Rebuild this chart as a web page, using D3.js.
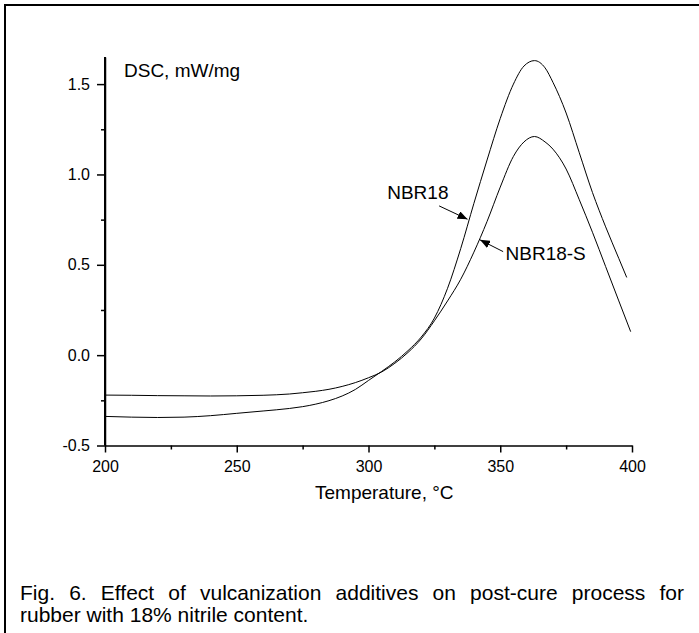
<!DOCTYPE html>
<html>
<head>
<meta charset="utf-8">
<script src="https://cdn.jsdelivr.net/npm/d3@7"></script>
<style>
    body { margin: 0; background: #fff; }
    svg text { font-family: "Liberation Sans", Arial, Helvetica, sans-serif; fill: #000; }
</style>
</head>
<body>
<script>
// NBR18 DSC curve, temperature (C) vs heat flow (mW/mg)
var tempNBR18 = [200, 210, 220, 230, 240, 250, 260, 270, 275, 280, 285, 290, 295, 300, 305, 310, 315, 320, 325,
                 330, 335, 340, 345, 350, 355, 359, 363, 367, 370, 375, 380, 385, 390, 395, 398];
var dscNBR18  = [-0.339, -0.343, -0.345, -0.343, -0.335, -0.322, -0.309, -0.295, -0.285, -0.271, -0.252, -0.226,
                 -0.19, -0.14, -0.09, -0.037, 0.025, 0.10, 0.205, 0.37, 0.59, 0.84, 1.08, 1.31, 1.50, 1.60, 1.63,
                 1.59, 1.51, 1.34, 1.12, 0.90, 0.71, 0.535, 0.43];

// NBR18-S DSC curve
var tempNBR18S = [200, 210, 220, 230, 240, 250, 260, 270, 275, 280, 285, 290, 295, 300, 305, 310, 315, 320, 325,
                  330, 335, 340, 345, 350, 355, 359, 363, 367, 370, 375, 380, 385, 390, 395, 399.5];
var dscNBR18S  = [-0.221, -0.222, -0.224, -0.225, -0.226, -0.225, -0.222, -0.215, -0.208, -0.200, -0.189, -0.173,
                  -0.152, -0.125, -0.093, -0.045, 0.015, 0.09, 0.19, 0.30, 0.42, 0.57, 0.74, 0.93, 1.10, 1.18, 1.21,
                  1.18, 1.14, 1.03, 0.86, 0.68, 0.49, 0.30, 0.13];

var xTicks = [200, 250, 300, 350, 400];
var xMinorTicks = [225, 275, 325, 375];
var yTicks = [-0.5, 0.0, 0.5, 1.0, 1.5];
var yMinorTicks = [-0.25, 0.25, 0.75, 1.25];

var yTitle = 'DSC, mW/mg';
var xTitle = 'Temperature, \u00B0C';
var captionLines = [
    'Fig. 6. Effect of vulcanization additives on post-cure process for',
    'rubber with 18% nitrile content.'
];

// curve labels, anchored in data units (text position, arrow tail, arrow tip)
var curveLabels = [
    {name: 'NBR18',   text: [307.1, 0.864], from: [326.8, 0.826], to: [337.6, 0.752]},
    {name: 'NBR18-S', text: [352.0, 0.527], from: [351.1, 0.573], to: [342.3, 0.638]}
];

var width = 699, height = 633;

var svg = d3.select('body').append('svg')
    .attr('width', width)
    .attr('height', height);

svg.append('defs').append('marker')
    .attr('id', 'arrow')
    .attr('markerUnits', 'userSpaceOnUse')
    .attr('markerWidth', 10)
    .attr('markerHeight', 8)
    .attr('refX', 10)
    .attr('refY', 4)
    .attr('orient', 'auto')
    .append('path')
    .attr('d', 'M0,0 L10,4 L0,8 Z')
    .attr('fill', '#000');

// outer frame (only top and left edges fall inside the picture)
svg.append('rect')
    .attr('x', 5).attr('y', 5)
    .attr('width', 900).attr('height', 900)
    .attr('fill', 'none')
    .attr('stroke', '#000')
    .attr('stroke-width', 2);

var x = d3.scaleLinear().domain([200, 400]).range([105, 632]);
var y = d3.scaleLinear().domain([-0.5, 1.65]).range([445.5, 57]);

var fmt = function(d) { return d.toFixed(1); };

// minor ticks
svg.append('g')
    .attr('transform', 'translate(0,' + y(-0.5) + ')')
    .call(d3.axisBottom(x).tickValues(xMinorTicks).tickSize(4).tickSizeOuter(0).tickFormat(''))
    .call(function(g) { g.select('.domain').remove(); });

svg.append('g')
    .attr('transform', 'translate(' + x(200) + ',0)')
    .call(d3.axisLeft(y).tickValues(yMinorTicks).tickSize(4).tickSizeOuter(0).tickFormat(''))
    .call(function(g) { g.select('.domain').remove(); });

// major ticks
svg.append('g')
    .attr('transform', 'translate(0,' + y(-0.5) + ')')
    .call(d3.axisBottom(x).tickValues(xTicks).tickSize(7).tickSizeOuter(0).tickPadding(8));

svg.append('g')
    .attr('transform', 'translate(' + x(200) + ',0)')
    .call(d3.axisLeft(y).tickValues(yTicks).tickSize(8).tickSizeOuter(0).tickPadding(7).tickFormat(fmt));

svg.selectAll('.domain').attr('stroke', '#000').attr('stroke-width', 1.5);
svg.selectAll('.tick line').attr('stroke', '#000').attr('stroke-width', 1.5);
svg.selectAll('.tick text').attr('font-size', 16).attr('font-family', null);

// vertical axis line drawn explicitly so it stays crisp
svg.append('line')
    .attr('x1', x(200)).attr('x2', x(200))
    .attr('y1', y(-0.5)).attr('y2', y.range()[1])
    .attr('stroke', '#000')
    .attr('stroke-width', 2);

var line = d3.line()
    .x(function(d) { return x(d[0]); })
    .y(function(d) { return y(d[1]); })
    .curve(d3.curveMonotoneX);

var series = [d3.zip(tempNBR18, dscNBR18), d3.zip(tempNBR18S, dscNBR18S)];

svg.selectAll('path.curve')
    .data(series)
    .enter().append('path')
    .attr('class', 'curve')
    .attr('d', line)
    .attr('fill', 'none')
    .attr('stroke', '#000')
    .attr('stroke-width', 1);

// curve labels with arrows
curveLabels.forEach(function(l) {
    svg.append('line')
        .attr('x1', x(l.from[0])).attr('y1', y(l.from[1]))
        .attr('x2', x(l.to[0])).attr('y2', y(l.to[1]))
        .attr('stroke', '#000')
        .attr('stroke-width', 1)
        .attr('marker-end', 'url(#arrow)');
    svg.append('text')
        .attr('x', x(l.text[0])).attr('y', y(l.text[1]))
        .attr('font-size', 19)
        .text(l.name);
});

// axis titles
svg.append('text')
    .attr('x', 124).attr('y', 77)
    .attr('font-size', 19)
    .text(yTitle);

svg.append('text')
    .attr('x', 315).attr('y', 499)
    .attr('font-size', 19)
    .text(xTitle);

// caption; first line justified to the frame by widening word gaps
var cap1 = svg.append('text')
    .attr('x', 20).attr('y', 600)
    .attr('font-size', 21)
    .text(captionLines[0]);

var natural = cap1.node().getComputedTextLength();
var gaps = captionLines[0].split(' ').length - 1;
cap1.attr('word-spacing', Math.max(0, (664 - natural) / gaps));

svg.append('text')
    .attr('x', 20).attr('y', 622)
    .attr('font-size', 21)
    .text(captionLines[1]);
</script>
</body>
</html>
